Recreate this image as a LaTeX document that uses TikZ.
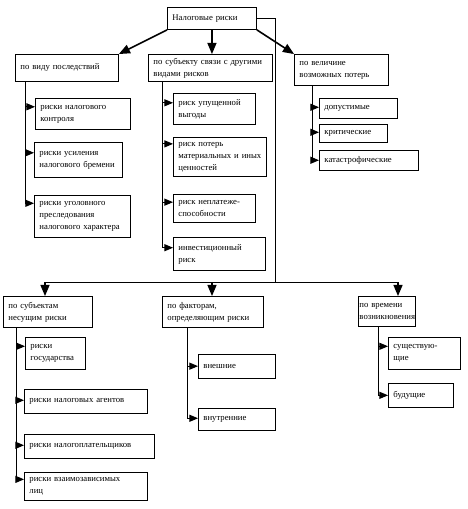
\documentclass[tikz,border=0pt]{standalone}
\usepackage{fontspec}
\setmainfont{Liberation Serif}
\usetikzlibrary{arrows}

\begin{document}
\begin{tikzpicture}[x=1pt,y=-1pt,>=triangle 45]
	\tikzstyle{every node} = [draw=black,line width=0.9pt,anchor=north west,align=left,inner xsep=5pt,inner ysep=1pt,font=\fontsize{8.7}{12}\selectfont];
	\tikzstyle{link} = [->,line width=1.6pt];
	\tikzstyle{stub} = [->,line width=1pt];
	\useasboundingbox (0,0) rectangle (467,509);
	% root
	\node (top) at (167,7) [text width=79pt,minimum height=22pt] {Налоговые риски};
	% first level
	\node (vid) at (15,54) [text width=93pt,minimum height=27pt] {по виду последствий};
	\node (svyaz) at (148,54) [text width=114pt,minimum height=27pt] {по субъекту связи с другими\\видами рисков};
	\node (velich) at (294,54) [text width=84pt,minimum height=31pt] {по величине\\возможных потерь};
	\node (vid1) at (35,98) [text width=85pt,minimum height=31pt] {риски налогового\\контроля};
	\node (vid2) at (34,142) [text width=78pt,minimum height=35pt] {риски усиления\\налогового бремени};
	\node (vid3) at (34,195) [text width=86pt,minimum height=42pt] {риски уголовного\\преследования\\налогового характера};
	\node (svyaz1) at (173,93) [text width=72pt,minimum height=31pt] {риск упущенной\\выгоды};
	\node (svyaz2) at (173,137) [text width=83pt,minimum height=39pt] {риск потерь\\материальных и иных\\ценностей};
	\node (svyaz3) at (173,194) [text width=72pt,minimum height=28pt] {риск неплатеже-\\способности};
	\node (svyaz4) at (173,237) [text width=82pt,minimum height=33pt] {инвестиционный\\риск};
	\node (velich1) at (319,98) [text width=68pt,minimum height=20pt] {допустимые};
	\node (velich2) at (319,124) [text width=58pt,minimum height=18pt] {критические};
	\node (velich3) at (319,150) [text width=89pt,minimum height=20pt] {катастрофические};
	% second level
	\node (subj) at (3,296) [text width=79pt,minimum height=31pt] {по субъектам\\несущим риски};
	\node (fakt) at (162,296) [text width=91pt,minimum height=31pt] {по факторам,\\определяющим риски};
	\node (vrem) at (358,296) [text width=55pt,minimum height=30pt,inner xsep=1pt] {по времени\\возникновения};
	\node (subj1) at (25,337) [text width=50pt,minimum height=32pt] {риски\\государства};
	\node (subj2) at (24,389) [text width=113pt,minimum height=24pt] {риски налоговых агентов};
	\node (subj3) at (24,434) [text width=120pt,minimum height=24pt] {риски налогоплательщиков};
	\node (subj4) at (24,472) [text width=113pt,minimum height=28pt] {риски взаимозависимых\\лиц};
	\node (fakt1) at (198,354) [text width=67pt,minimum height=24pt] {внешние};
	\node (fakt2) at (198,408) [text width=67pt,minimum height=22pt] {внутренние};
	\node (vrem1) at (388,337) [text width=62pt,minimum height=32pt] {существую-\\щие};
	\node (vrem2) at (388,383) [text width=55pt,minimum height=24pt] {будущие};
	% connectors
	\draw[link] (top.south west) -- (vid.north east);
	\draw[link] (top.south) -- (top.south |- svyaz.north);
	\draw[link] (top.south east) -- (velich.north west);
	\foreach \c in {vid1,vid2,vid3}
		\draw[stub] ([xshift=10pt]vid.south west) |- (\c.mid west);
	\foreach \c in {svyaz1,svyaz2,svyaz3,svyaz4}
		\draw[stub] ([xshift=14pt]svyaz.south west) |- (\c.mid west);
	\foreach \c in {velich1,velich2,velich3}
		\draw[stub] ([xshift=18pt]velich.south west) |- (\c.mid west);
	\coordinate (turn) at (275,282);
	\coordinate (j1) at (45,282);
	\coordinate (j2) at (212,282);
	\coordinate (j3) at (398,282);
	\draw[line width=0.8pt] (top.east) -| (turn);
	\draw[line width=1pt] (j1) -- (j3);
	\draw[link] (j1) -- (j1 |- subj.north);
	\draw[link] (j2) -- (j2 |- fakt.north);
	\draw[link] (j3) -- (j3 |- vrem.north);
	\foreach \c in {subj1,subj2,subj3,subj4}
		\draw[stub] ([xshift=13pt]subj.south west) |- (\c.mid west);
	\foreach \c in {fakt1,fakt2}
		\draw[stub] ([xshift=25pt]fakt.south west) |- (\c.mid west);
	\foreach \c in {vrem1,vrem2}
		\draw[stub] ([xshift=20pt]vrem.south west) |- (\c.mid west);
\end{tikzpicture}
\end{document}
